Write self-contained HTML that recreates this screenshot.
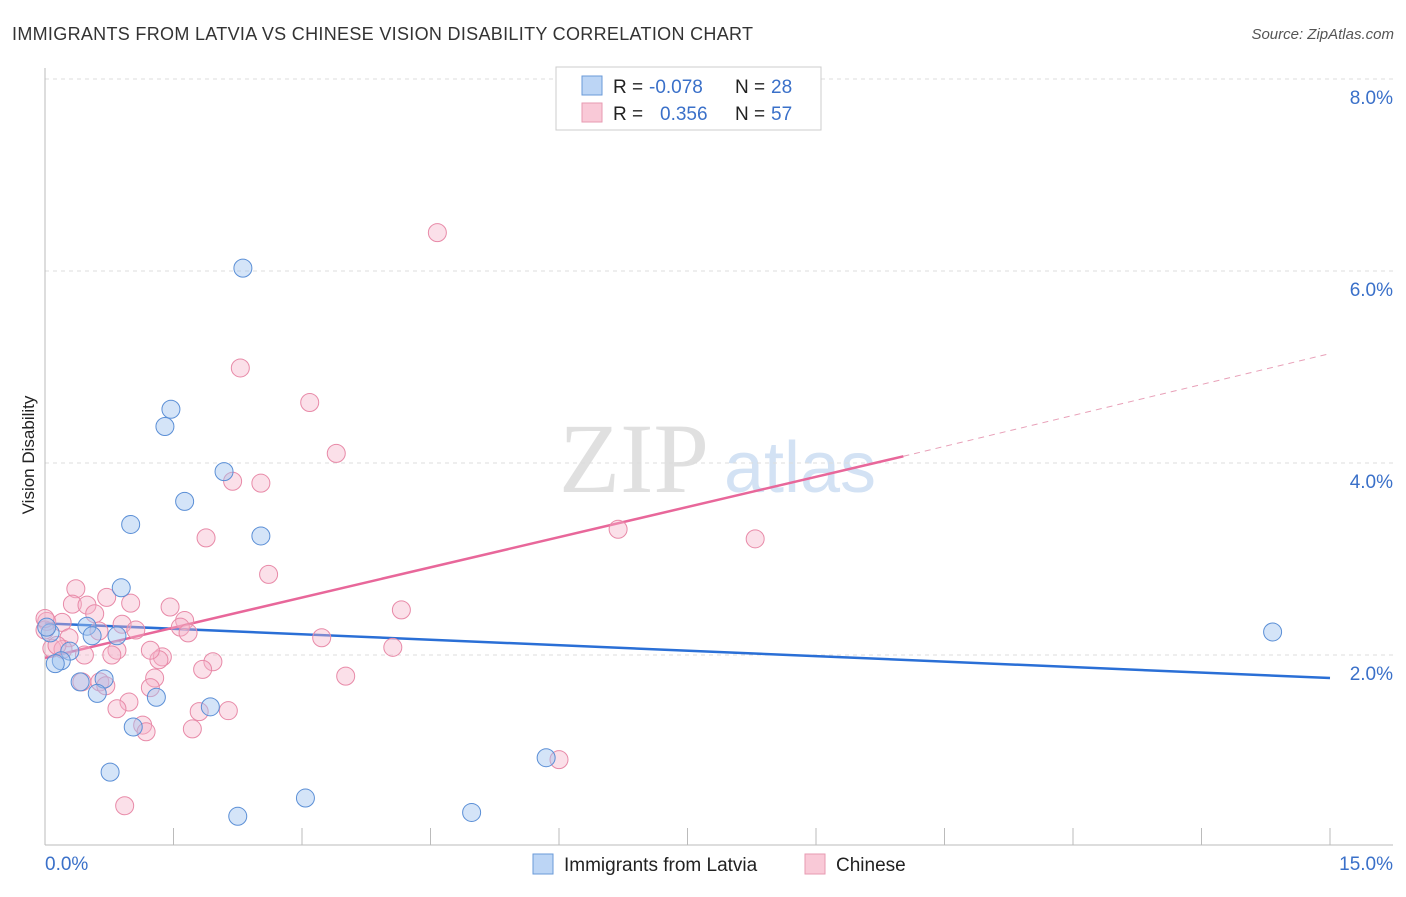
<!DOCTYPE html>
<html><head><meta charset="utf-8"><style>
body{margin:0;background:#fff;font-family:"Liberation Sans",sans-serif}
svg text{font-family:"Liberation Sans",sans-serif}
</style></head><body>
<svg id="chart" width="1406" height="892">
<text x="12" y="40" font-size="18" fill="#333" textLength="741">IMMIGRANTS FROM LATVIA VS CHINESE VISION DISABILITY CORRELATION CHART</text>
<text x="1394" y="39" font-size="15" fill="#555" font-style="italic" text-anchor="end">Source: ZipAtlas.com</text>
<text transform="translate(34,455) rotate(-90)" font-size="17" fill="#222" text-anchor="middle">Vision Disability</text>
<g>
<text x="634" y="492" font-size="100" fill="#e0e0e0" style="font-family:'Liberation Serif',serif" text-anchor="middle">ZIP</text>
<text x="800" y="492" font-size="72" fill="#d3e2f4" text-anchor="middle">atlas</text>
</g>
<g id="grid"></g><g id="axes"></g><g id="trends"></g><g id="pts"></g>
<g>
<rect x="556" y="67" width="265" height="63" fill="#fff" stroke="#ccc"/>
<rect x="582" y="76" width="20" height="19" fill="#bcd5f5" stroke="#6a9ad8"/>
<rect x="582" y="103" width="20" height="19" fill="#f9c9d7" stroke="#e79ab2"/>
<text x="613" y="93" font-size="19" fill="#222">R =</text>
<text x="649" y="93" font-size="19" fill="#3a70c9">-0.078</text>
<text x="735" y="93" font-size="19" fill="#222">N =</text>
<text x="771" y="93" font-size="19" fill="#3a70c9">28</text>
<text x="613" y="120" font-size="19" fill="#222">R =</text>
<text x="660" y="120" font-size="19" fill="#3a70c9">0.356</text>
<text x="735" y="120" font-size="19" fill="#222">N =</text>
<text x="771" y="120" font-size="19" fill="#3a70c9">57</text>
</g>
<g>
<rect x="533" y="854" width="20" height="20" fill="#bcd5f5" stroke="#6a9ad8"/>
<text x="564" y="871" font-size="19" fill="#222">Immigrants from Latvia</text>
<rect x="805" y="854" width="20" height="20" fill="#f9c9d7" stroke="#e79ab2"/>
<text x="836" y="871" font-size="19" fill="#222">Chinese</text>
</g>
</svg>
<script>
const yTicks=[2,4,6,8];
const xTickLabels=["0.0%","15.0%"];
const latviaX=[2.31,1.47,1.40,2.09,1.63,1.00,2.52,0.89,0.49,0.55,0.84,0.06,0.29,0.19,0.12,0.41,0.69,0.61,1.30,1.93,1.03,0.76,3.04,2.25,4.98,5.85,14.33,0.02];
const latviaY=[6.03,4.56,4.38,3.91,3.60,3.36,3.24,2.70,2.30,2.20,2.20,2.23,2.04,1.94,1.91,1.72,1.75,1.60,1.56,1.46,1.25,0.78,0.51,0.32,0.36,0.93,2.24,2.29];
const chineseX=[4.58,2.28,3.09,3.40,2.19,2.52,6.69,8.29,1.88,2.61,0.36,0.72,0.32,0.49,1.00,1.46,4.16,0.58,0.02,0.20,0.90,1.63,1.58,1.06,1.67,3.23,0.28,0.08,0.21,0.46,0.84,4.06,0.78,1.37,1.33,1.96,1.84,3.51,1.28,0.64,0.71,1.23,0.98,0.84,1.80,2.14,1.14,1.18,1.72,6.00,0.93,0.43,0.00,0.14,0.00,1.23,0.63];
const chineseY=[6.40,4.99,4.63,4.10,3.81,3.79,3.31,3.21,3.22,2.84,2.69,2.60,2.53,2.52,2.54,2.50,2.47,2.43,2.35,2.34,2.32,2.36,2.29,2.26,2.23,2.18,2.18,2.07,2.06,2.00,2.05,2.08,2.00,1.98,1.95,1.93,1.85,1.78,1.76,1.72,1.68,1.66,1.51,1.44,1.41,1.42,1.27,1.20,1.23,0.91,0.43,1.72,2.26,2.10,2.38,2.05,2.25];
const latviaTrendX=[0,15];const latviaTrendY=[2.33,1.76];
const chineseTrendX=[0,10.02,15];const chineseTrendY=[1.97,4.07,5.14];

const NS="http://www.w3.org/2000/svg";
const X=v=>45+v/15*1285, Y=v=>847-v*96;
function mk(tag,attrs,parent){const e=document.createElementNS(NS,tag);for(const k in attrs)e.setAttribute(k,attrs[k]);document.getElementById(parent).appendChild(e);return e;}
yTicks.forEach(t=>{
 let g=mk('line',{x1:45,x2:1393,y1:Y(t),y2:Y(t),stroke:'#ddd','stroke-dasharray':'4,4'},'grid');
 
 
 let l=mk('text',{x:1393,y:Y(t)+25,'font-size':19,fill:'#3a70c9','text-anchor':'end'},'grid');
 l.textContent=t.toFixed(1)+'%';
 
 
});
let ax=mk('line',{x1:45,x2:45,y1:68,y2:845,stroke:'#bbb'},'axes');


let bx=mk('line',{x1:45,x2:1393,y1:845,y2:845,stroke:'#bbb'},'axes');


for(let i=1;i<=10;i++){let t=mk('line',{x1:X(i*1.5),x2:X(i*1.5),y1:828,y2:845,stroke:'#bbb'},'axes');
 
 }
let xl0=mk('text',{x:45,y:870,'font-size':19,fill:'#3a70c9'},'axes');xl0.textContent=xTickLabels[0];


let xl1=mk('text',{x:1393,y:870,'font-size':19,fill:'#3a70c9','text-anchor':'end'},'axes');xl1.textContent=xTickLabels[1];


chineseX.forEach((v,i)=>{let c=mk('circle',{cx:X(v),cy:Y(chineseY[i]),r:9,fill:'rgba(246,178,200,0.4)',stroke:'#e88aa8','stroke-width':1},'pts');
 
 });
latviaX.forEach((v,i)=>{let c=mk('circle',{cx:X(v),cy:Y(latviaY[i]),r:9,fill:'rgba(160,196,240,0.45)',stroke:'#5b8fd6','stroke-width':1},'pts');
 
 });
let bt=mk('line',{x1:X(latviaTrendX[0]),y1:Y(latviaTrendY[0]),x2:X(latviaTrendX[1]),y2:Y(latviaTrendY[1]),stroke:'#2a6fd6','stroke-width':2.5},'trends');


let pt=mk('line',{x1:X(chineseTrendX[0]),y1:Y(chineseTrendY[0]),x2:X(chineseTrendX[1]),y2:Y(chineseTrendY[1]),stroke:'#e8679a','stroke-width':2.5},'trends');


let pd=mk('line',{x1:X(chineseTrendX[1]),y1:Y(chineseTrendY[1]),x2:X(chineseTrendX[2]),y2:Y(chineseTrendY[2]),stroke:'#e8a0b8','stroke-width':1,'stroke-dasharray':'6,5'},'trends');


</script>
</body></html>
